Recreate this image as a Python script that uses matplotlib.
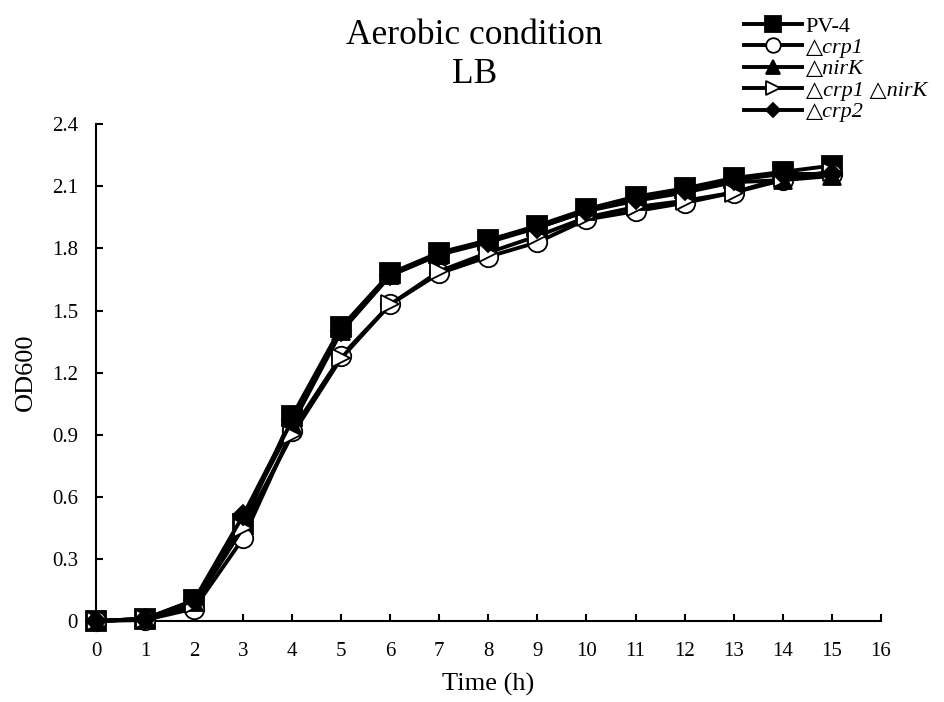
import matplotlib
matplotlib.use("Agg")
import matplotlib.pyplot as plt

plt.rcParams['font.family'] = ['Liberation Serif', 'DejaVu Sans']

# Growth curves
time_h = list(range(16))
pv4 = [0, 0.01, 0.10, 0.47, 0.99, 1.42, 1.68, 1.78, 1.84, 1.91, 1.99, 2.05, 2.09, 2.14, 2.17, 2.20]
crp1 = [0, 0.005, 0.06, 0.40, 0.92, 1.28, 1.53, 1.68, 1.76, 1.83, 1.94, 1.98, 2.02, 2.07, 2.13, 2.16]
nirk = [0, 0.01, 0.09, 0.50, 0.95, 1.40, 1.67, 1.77, 1.84, 1.90, 1.98, 2.03, 2.07, 2.12, 2.13, 2.15]
crp1_nirk = [0, 0.01, 0.08, 0.45, 0.90, 1.27, 1.53, 1.69, 1.78, 1.86, 1.95, 2.00, 2.03, 2.07, 2.14, 2.17]
crp2 = [0, 0.01, 0.10, 0.51, 0.97, 1.40, 1.67, 1.77, 1.83, 1.90, 1.98, 2.04, 2.08, 2.13, 2.16, 2.16]

labels = ['PV-4', '△crp1', '△nirK', '△crp1 △nirK', '△crp2']
xticks = list(range(17))
yticks = [0, 0.3, 0.6, 0.9, 1.2, 1.5, 1.8, 2.1, 2.4]
ytick_labels = ['0', '0.3', '0.6', '0.9', '1.2', '1.5', '1.8', '2.1', '2.4']

fig = plt.figure(figsize=(9.45, 7.02), dpi=100)
ax = fig.add_axes([0.1016, 0.1154, 0.8304, 0.7076])

styles = [
    dict(marker='s', markerfacecolor='black', markersize=15),
    dict(marker='o', markerfacecolor='white', markersize=14),
    dict(marker='^', markerfacecolor='black', markersize=13),
    dict(marker='>', markerfacecolor='white', markersize=13),
    dict(marker='D', markerfacecolor='black', markersize=10),
]
series = [pv4, crp1, nirk, crp1_nirk, crp2]
for ys, lab, st in zip(series, labels, styles):
    ax.plot(time_h, ys, color='black', linewidth=2.8, markeredgecolor='black',
            markeredgewidth=1.3, label=lab, clip_on=False, zorder=3, **st)

ax.set_xlim(0, 16)
ax.set_ylim(0, 2.4)
ax.set_xticks(xticks)
ax.set_yticks(yticks)
ax.set_yticklabels(ytick_labels)
ax.tick_params(direction='in', length=5, width=1.5, labelsize=15)
ax.tick_params(axis='x', pad=15)
ax.tick_params(axis='y', pad=13)
for s in ['top', 'right']:
    ax.spines[s].set_visible(False)
for s in ['left', 'bottom']:
    ax.spines[s].set_linewidth(1.5)

ax.set_xlabel('Time (h)', fontsize=19, labelpad=9)
ax.set_ylabel('OD600', fontsize=19, labelpad=11)
fig.text(0.502, 0.950, 'Aerobic condition', ha='center', va='center', fontsize=25.5)
fig.text(0.502, 0.894, 'LB', ha='center', va='center', fontsize=25.5)

leg = fig.legend(loc='upper left', bbox_to_anchor=(0.776, 0.993), frameon=False,
                 fontsize=16, handlelength=2.6, labelspacing=0.04, handletextpad=0.15,
                 borderaxespad=0.1)
for h in leg.legend_handles:
    h.set_markersize(h.get_markersize() * 0.75)
for t in leg.get_texts()[1:]:
    t.set_fontstyle('italic')

fig.savefig('out.png', dpi=100)
